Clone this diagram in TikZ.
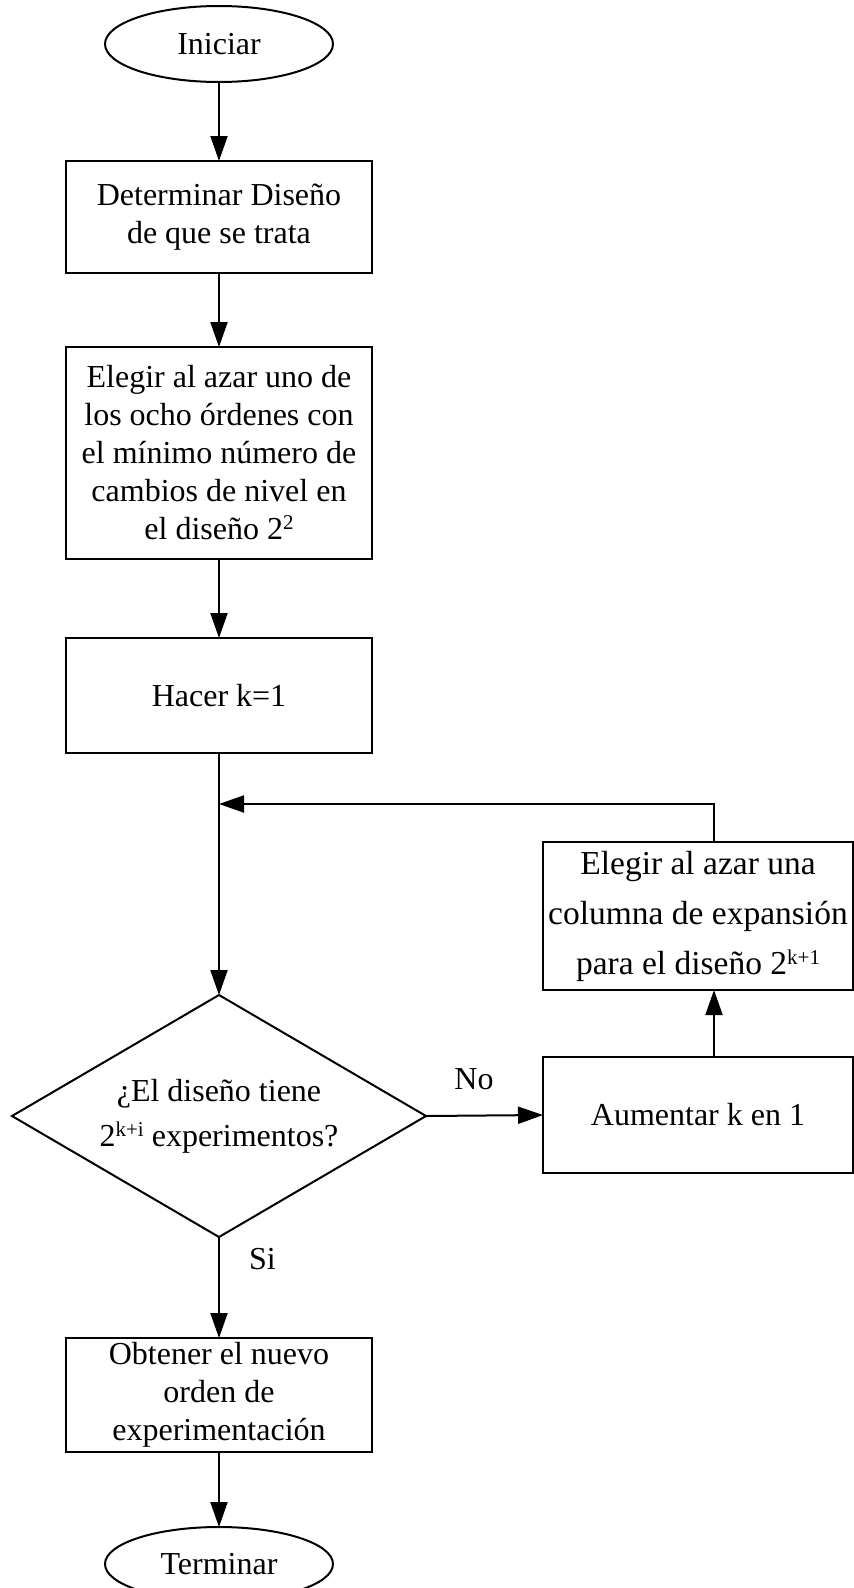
\documentclass[tikz,border=0pt]{standalone}
\usepackage{fontspec}
\setmainfont{Liberation Serif}
\usetikzlibrary{arrows.meta,shapes.geometric}
\newcommand{\supx}[1]{\raisebox{10pt}{\fontsize{21}{21}\selectfont #1}}
\begin{document}
\begin{tikzpicture}[x=1pt,y=-1pt,
  every node/.style={inner sep=0pt, outer sep=0pt},
  txt/.style={font=\fontsize{32}{38}\selectfont, align=center},
  procbox/.style={draw, line width=2pt, rectangle, txt},
  term/.style={draw, line width=2pt, ellipse, minimum width=228pt, minimum height=76pt, txt},
  decision/.style={draw, line width=2pt, diamond, aspect=1.71, minimum width=414pt, minimum height=242pt, txt, font=\fontsize{32}{45}\selectfont},
  conn/.style={line width=2pt},
  arr/.style={conn, -{Triangle[length=25pt,width=17pt]}},
  lbl/.style={font=\fontsize{32}{38}\selectfont}
]
\useasboundingbox (0,0) rectangle (854,1588);

\node[term] (ini) at (219,44) {Iniciar};
\node[procbox, minimum width=306pt, minimum height=112pt] (b1) at (219,217) {Determinar Diseño\\de que se trata};
\node[procbox, minimum width=306pt, minimum height=212pt] (b2) at (219,453) {Elegir al azar uno de\\los ocho órdenes con\\el mínimo número de\\cambios de nivel en\\el diseño 2\supx{2}};
\node[procbox, minimum width=306pt, minimum height=115pt] (b3) at (219,695.5) {Hacer k=1};
\node[decision] (d) at (219,1116) {¿El diseño tiene\\2\supx{k+i} experimentos?};
\node[procbox, minimum width=310pt, minimum height=148pt, font=\fontsize{33.5}{50}\selectfont] (e) at (698,916) {Elegir al azar una\\columna de expansión\\para el diseño 2\supx{k+1}};
\node[procbox, minimum width=310pt, minimum height=116pt] (a) at (698,1115) {Aumentar k en 1};
\node[procbox, minimum width=306pt, minimum height=114pt] (o) at (219,1395) {Obtener el nuevo\\orden de\\experimentación};
\node[term, minimum height=74pt] (t) at (219,1564) {Terminar};

\node[lbl] (no) at (474,1079.5) {No};
\node[lbl] (si) at (262.5,1259.5) {Si};

\coordinate (j) at (219,804);
\coordinate (xr) at (714,0);

\draw[arr] (ini) -- (b1);
\draw[arr] (b1) -- (b2);
\draw[arr] (b2) -- (b3);
\draw[arr] (b3) -- (d);
\draw[arr] (d.east) -- (a.west);
\draw[arr] (a.north -| xr) -- (e.south -| xr);
\draw[arr] (e.north -| xr) |- (j);
\draw[arr] (d.south) -- (o.north);
\draw[arr] (o) -- (t);
\end{tikzpicture}
\end{document}
